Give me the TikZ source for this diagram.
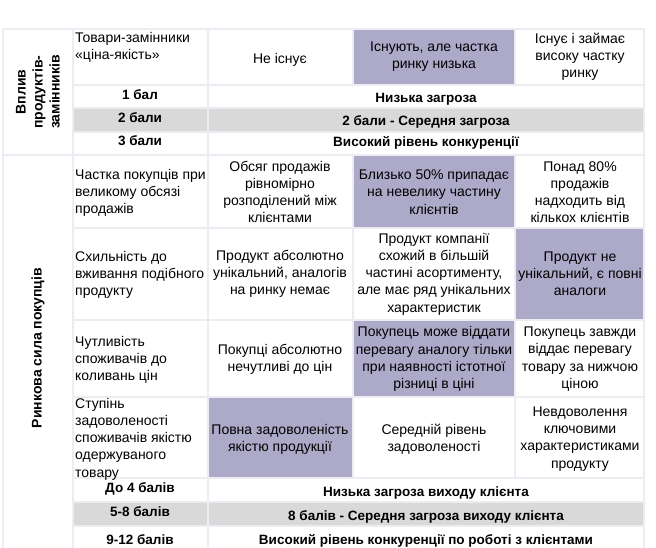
\documentclass[tikz,border=0pt]{standalone}
\usepackage{fontspec}
\setmainfont{Liberation Sans}
\definecolor{lav}{HTML}{ADA9C9}
\definecolor{band}{HTML}{D9D9D9}
\definecolor{rule}{HTML}{ECECF2}
\begin{document}
\begin{tikzpicture}[
    x=1pt, y=-1pt,
    every node/.style={inner sep=1pt, font=\fontsize{14}{17.2}\selectfont},
    opt/.style={align=center},
    crit/.style={align=left, anchor=west},
    score/.style={font=\fontsize{13.5}{15}\selectfont\bfseries},
    side/.style={rotate=90, align=center, font=\fontsize{14}{17}\selectfont\bfseries},
    hi/.style={fill=lav, draw=none},
    bandrow/.style={fill=band, draw=none},
    grid/.style={draw=rule, line width=1.3pt}
]
\useasboundingbox (0,0) rectangle (656,548);
% fills
\fill[hi] (353,29) rectangle (515,85);
\fill[hi] (353,155) rectangle (515,228);
\fill[hi] (515,228) rectangle (644,320);
\fill[hi] (353,320) rectangle (515,397);
\fill[hi] (208,397) rectangle (353,478);
\fill[bandrow] (73,108) rectangle (644,132);
\fill[bandrow] (73,502) rectangle (644,526);
% grid
\foreach \x in {3,73,208,644} \draw[grid] (\x,29) -- (\x,548);
\foreach \x in {353,515} {
    \draw[grid] (\x,29) -- (\x,85);
    \draw[grid] (\x,155) -- (\x,478);
}
\foreach \y in {29,155} \draw[grid] (3,\y) -- (644,\y);
\foreach \y in {85,108,132,228,320,397,478,502,526} \draw[grid] (73,\y) -- (644,\y);

% side labels
\node[side] (subst) at (38,92) {Вплив\\продуктів-\\замінників};
\node[side] (buyers) at (38,348) {Ринкова сила покупців};

% substitutes
\node[crit, anchor=north west] (c1) at (74,31) {Товари-замінники\\«ціна-якість»};
\node[opt] (c1a) at (280,60) {Не існує};
\node[opt] (c1b) at (434,57) {Існують, але частка\\ринку низька};
\node[opt] (c1c) at (580,57) {Існує і займає\\високу частку\\ринку};
\node[score] (s1) at (140,95) {1 бал};
\node[score] (s1t) at (426,99) {Низька загроза};
\node[score] (s2) at (140,118) {2 бали};
\node[score] (s2t) at (426,122) {2 бали - Середня загроза};
\node[score] (s3) at (140,141) {3 бали};
\node[score] (s3t) at (426,143) {Високий рівень конкуренції};

% buyers
\node[crit] (r1) at (74,193) {Частка покупців при\\великому обсязі\\продажів};
\node[opt] (r1a) at (280,192) {Обсяг продажів\\рівномірно\\розподілений між\\клієнтами};
\node[opt] (r1b) at (434,192) {Близько 50\% припадає\\на невелику частину\\клієнтів};
\node[opt] (r1c) at (580,192) {Понад 80\%\\продажів\\надходить від\\кількох клієнтів};

\node[crit] (r2) at (74,275) {Схильність до\\вживання подібного\\продукту};
\node[opt] (r2a) at (280,274) {Продукт абсолютно\\унікальний, аналогів\\на ринку немає};
\node[opt] (r2b) at (434,274) {Продукт компанії\\схожий в більшій\\частині асортименту,\\але має ряд унікальних\\характеристик};
\node[opt] (r2c) at (580,274) {Продукт не\\унікальний, є повні\\аналоги};

\node[crit] (r3) at (74,360) {Чутливість\\споживачів до\\коливань цін};
\node[opt] (r3a) at (280,359) {Покупці абсолютно\\нечутливі до цін};
\node[opt] (r3b) at (434,359) {Покупець може віддати\\перевагу аналогу тільки\\при наявності істотної\\різниці в ціні};
\node[opt] (r3c) at (580,359) {Покупець завжди\\віддає перевагу\\товару за нижчою\\ціною};

\node[crit] (r4) at (74,439) {Ступінь\\задоволеності\\споживачів якістю\\одержуваного\\товару};
\node[opt] (r4a) at (280,439) {Повна задоволеність\\якістю продукції};
\node[opt] (r4b) at (434,439) {Середній рівень\\задоволеності};
\node[opt] (r4c) at (580,439) {Невдоволення\\ключовими\\характеристиками\\продукту};

\node[score] (b1) at (140,489) {До 4 балів};
\node[score] (b1t) at (426,493) {Низька загроза виходу клієнта};
\node[score] (b2) at (140,512) {5-8 балів};
\node[score] (b2t) at (426,517) {8 балів - Середня загроза виходу клієнта};
\node[score] (b3) at (140,540) {9-12 балів};
\node[score] (b3t) at (426,541) {Високий рівень конкуренції по роботі з клієнтами};
\end{tikzpicture}
\end{document}
